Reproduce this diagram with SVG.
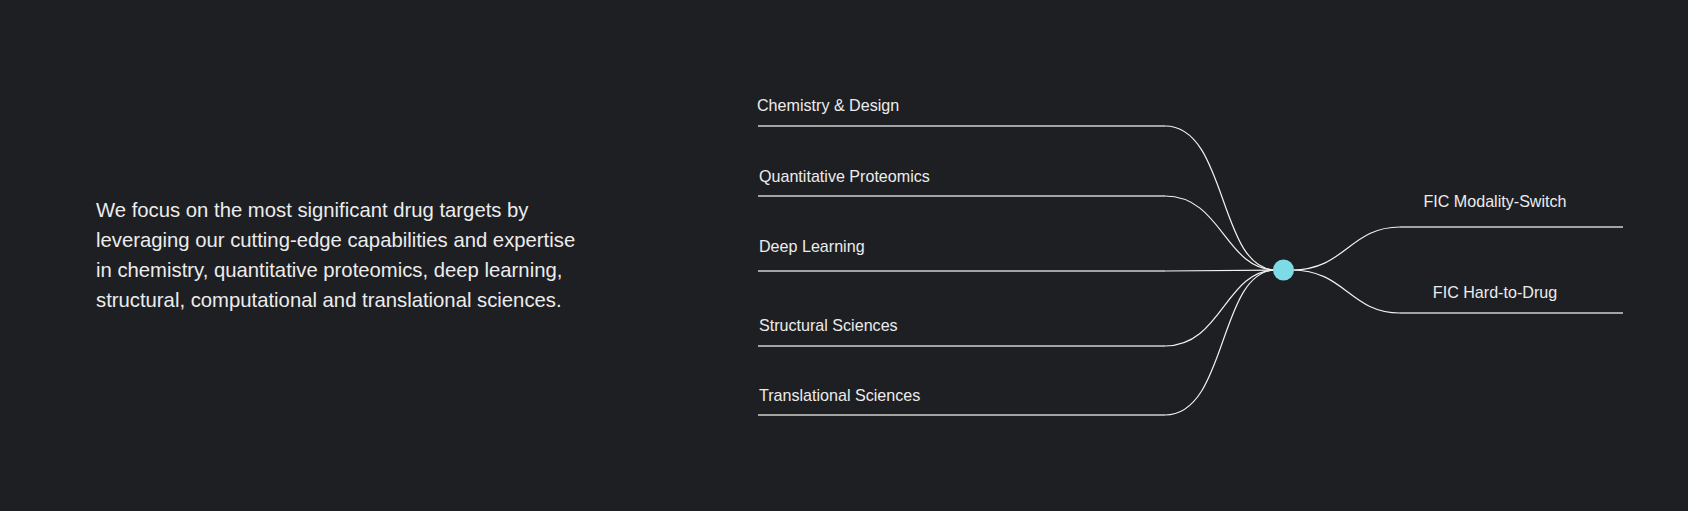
<svg xmlns="http://www.w3.org/2000/svg" width="1688" height="511" viewBox="0 0 1688 511">
  <style>
    .bg { fill: #1e1f23; }
    .para { font-family: "Liberation Sans", Arial, sans-serif; font-size: 20.3px; fill: #ececec; }
    .label { font-family: "Liberation Sans", Arial, sans-serif; font-size: 16.1px; fill: #ececec; }
    .stem { stroke: #a3a3a3; stroke-width: 2; fill: none; }
    .curve { stroke: #f2f2f2; stroke-width: 1.2; fill: none; }
    .hub { fill: #7ddbe6; }
  </style>
  <rect class="bg" x="0" y="0" width="1688" height="511"/>

  <g id="intro">
    <text class="para" x="96" y="217">We focus on the most significant drug targets by</text>
    <text class="para" x="96" y="247">leveraging our cutting-edge capabilities and expertise</text>
    <text class="para" x="96" y="277">in chemistry, quantitative proteomics, deep learning,</text>
    <text class="para" x="96" y="307">structural, computational and translational sciences.</text>
  </g>

  <g id="connectors">
    <path class="stem" d="M758,126 H1165"/>
    <path class="curve" d="M1165,126 C1228,126 1218,270 1276,270"/>
    <path class="stem" d="M758,196 H1165"/>
    <path class="curve" d="M1165,196 C1222,196 1225,270 1276,270"/>
    <path class="stem" d="M758,271 H1165"/>
    <path class="curve" d="M1165,271 L1276,270"/>
    <path class="stem" d="M758,346 H1165"/>
    <path class="curve" d="M1165,346 C1222,346 1225,270 1276,270"/>
    <path class="stem" d="M758,415 H1165"/>
    <path class="curve" d="M1165,415 C1228,415 1218,270 1276,270"/>
    <path class="curve" d="M1292,270 C1345,270 1350,227 1400,227"/>
    <path class="stem" d="M1400,227 H1623"/>
    <path class="curve" d="M1292,270 C1345,270 1350,313 1400,313"/>
    <path class="stem" d="M1400,313 H1623"/>
  </g>

  <g id="hub">
    <circle class="hub" cx="1283.5" cy="270" r="10.5"/>
  </g>

  <g id="node-chemistry"><text class="label" x="757" y="111">Chemistry &amp; Design</text></g>
  <g id="node-proteomics"><text class="label" x="759" y="181.5">Quantitative Proteomics</text></g>
  <g id="node-deep-learning"><text class="label" x="759" y="251.5">Deep Learning</text></g>
  <g id="node-structural"><text class="label" x="759" y="331">Structural Sciences</text></g>
  <g id="node-translational"><text class="label" x="759" y="400.5">Translational Sciences</text></g>
  <g id="node-modality"><text class="label" x="1495" y="206.5" text-anchor="middle">FIC Modality-Switch</text></g>
  <g id="node-hard-to-drug"><text class="label" x="1495" y="298" text-anchor="middle">FIC Hard-to-Drug</text></g>
</svg>
